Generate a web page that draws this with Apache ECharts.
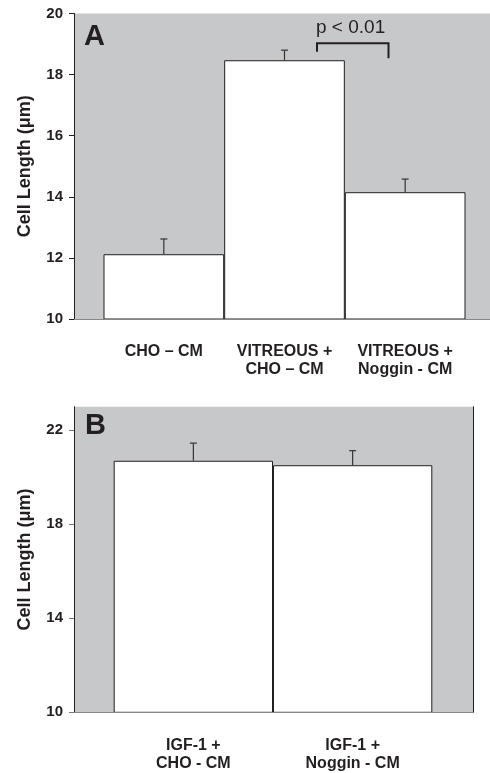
<!DOCTYPE html>
<html>
<head>
<meta charset="utf-8">
<script src="https://cdn.jsdelivr.net/npm/echarts@6/dist/echarts.min.js"></script>
<style>
  html, body { margin: 0; padding: 0; background: #fff; }
  #plot1 { width: 490px; height: 773px; }
</style>
</head>
<body>
<div id="plot1"></div>
<script>
// panel A
const catsA = ['CHO – CM', 'VITREOUS +\nCHO – CM', 'VITREOUS +\nNoggin - CM'];
const meansA = [12.12, 18.47, 14.15];
const errA = [0.5, 0.33, 0.43];
const ticksA = [10, 12, 14, 16, 18, 20];

// panel B
const catsB = ['IGF-1 +\nCHO - CM', 'IGF-1 +\nNoggin - CM'];
const meansB = [20.7, 20.51];
const errB = [0.75, 0.62];
const ticksB = [10, 14, 18, 22];

const font = "'Liberation Sans', Arial, sans-serif";
const ink = '#231f20';
const bgGray = '#c7c8ca';

function errData(means, errs) {
  return means.map(function (m, i) { return [i, m, m + errs[i]]; });
}

function renderErr(params, api) {
  var base = api.coord([api.value(0), api.value(1)]);
  var top = api.coord([api.value(0), api.value(2)]);
  var style = { stroke: '#333', lineWidth: 1.2 };
  return {
    type: 'group',
    children: [
      { type: 'line', shape: { x1: base[0], y1: base[1], x2: top[0], y2: top[1] }, style: style },
      { type: 'line', shape: { x1: top[0] - 3.5, y1: top[1], x2: top[0] + 3.5, y2: top[1] }, style: style }
    ]
  };
}

var tickLabel = { color: ink, fontFamily: font, fontWeight: 'bold', fontSize: 15, margin: 11 };
var catLabel = { color: ink, fontFamily: font, fontWeight: 'bold', fontSize: 16, lineHeight: 18, margin: 24, interval: 0 };
var yName = {
  name: 'Cell Length (μm)',
  nameLocation: 'middle',
  nameGap: 40,
  nameTextStyle: { color: ink, fontFamily: font, fontWeight: 'bold', fontSize: 18 }
};

var chartDom = document.getElementById('plot1');
var myChart = echarts.init(chartDom);
var option = {
  animation: false,
  grid: [
    { left: 74, top: 13.5, width: 416, height: 305.5, show: true, backgroundColor: bgGray, borderWidth: 0 },
    { left: 103.5, top: 13.5, width: 362, height: 305.5 },
    { left: 74, top: 406.7, width: 399.3, height: 305.6, show: true, backgroundColor: bgGray, borderWidth: 0 },
    { left: 113.7, top: 406.7, width: 318.6, height: 305.6 }
  ],
  xAxis: [
    { gridIndex: 0, type: 'category', data: [''], axisLine: { lineStyle: { color: '#888' } }, axisTick: { show: false }, axisLabel: { show: false } },
    { gridIndex: 1, type: 'category', data: catsA, z: 3, axisLine: { lineStyle: { color: '#888' } }, axisTick: { show: false }, axisLabel: catLabel },
    { gridIndex: 2, type: 'category', data: [''], axisLine: { lineStyle: { color: '#888' } }, axisTick: { show: false }, axisLabel: { show: false } },
    { gridIndex: 3, type: 'category', data: catsB, z: 3, axisLine: { lineStyle: { color: '#888' } }, axisTick: { show: false }, axisLabel: catLabel }
  ],
  yAxis: [
    Object.assign({
      gridIndex: 0, type: 'value', min: ticksA[0], max: ticksA[ticksA.length - 1], interval: 2,
      axisLine: { show: true, lineStyle: { color: ink } },
      axisTick: { show: true, length: 5, lineStyle: { color: ink } },
      axisLabel: tickLabel,
      splitLine: { show: false }
    }, yName),
    { gridIndex: 1, type: 'value', min: ticksA[0], max: ticksA[ticksA.length - 1], show: false },
    Object.assign({
      gridIndex: 2, type: 'value', min: 10, max: 23,
      axisLine: { show: true, lineStyle: { color: ink } },
      axisTick: { show: true, length: 5, customValues: ticksB, lineStyle: { color: '#777' } },
      axisLabel: Object.assign({ customValues: ticksB }, tickLabel),
      splitLine: { show: false }
    }, yName),
    { gridIndex: 2, type: 'value', position: 'right', min: 10, max: 23,
      axisLine: { show: true, lineStyle: { color: ink } }, axisTick: { show: false }, axisLabel: { show: false }, splitLine: { show: false } },
    { gridIndex: 3, type: 'value', min: 10, max: 23, show: false }
  ],
  series: [
    {
      type: 'bar', xAxisIndex: 1, yAxisIndex: 1, data: meansA,
      barCategoryGap: '0%',
      itemStyle: { color: '#fff', borderColor: ink, borderWidth: 1 }
    },
    {
      type: 'custom', xAxisIndex: 1, yAxisIndex: 1, data: errData(meansA, errA),
      renderItem: renderErr, z: 4
    },
    {
      type: 'bar', xAxisIndex: 3, yAxisIndex: 4, data: meansB,
      barCategoryGap: '0%',
      itemStyle: { color: '#fff', borderColor: ink, borderWidth: 1 }
    },
    {
      type: 'custom', xAxisIndex: 3, yAxisIndex: 4, data: errData(meansB, errB),
      renderItem: renderErr, z: 4
    }
  ],
  graphic: [
    { type: 'text', left: 84, top: 22, z: 10, style: { text: 'A', fill: ink, font: 'bold 29px ' + font } },
    { type: 'text', left: 85, top: 411, z: 10, style: { text: 'B', fill: ink, font: 'bold 29px ' + font } },
    { type: 'text', left: 316, top: 18, z: 10, style: { text: 'p < 0.01', fill: ink, font: '19px ' + font } },
    { type: 'polyline', z: 10, shape: { points: [[317, 51.7], [317, 43.3], [388.5, 43.3], [388.5, 58.3]] },
      style: { stroke: ink, lineWidth: 2, fill: null } }
  ]
};
myChart.setOption(option);
</script>
</body>
</html>
